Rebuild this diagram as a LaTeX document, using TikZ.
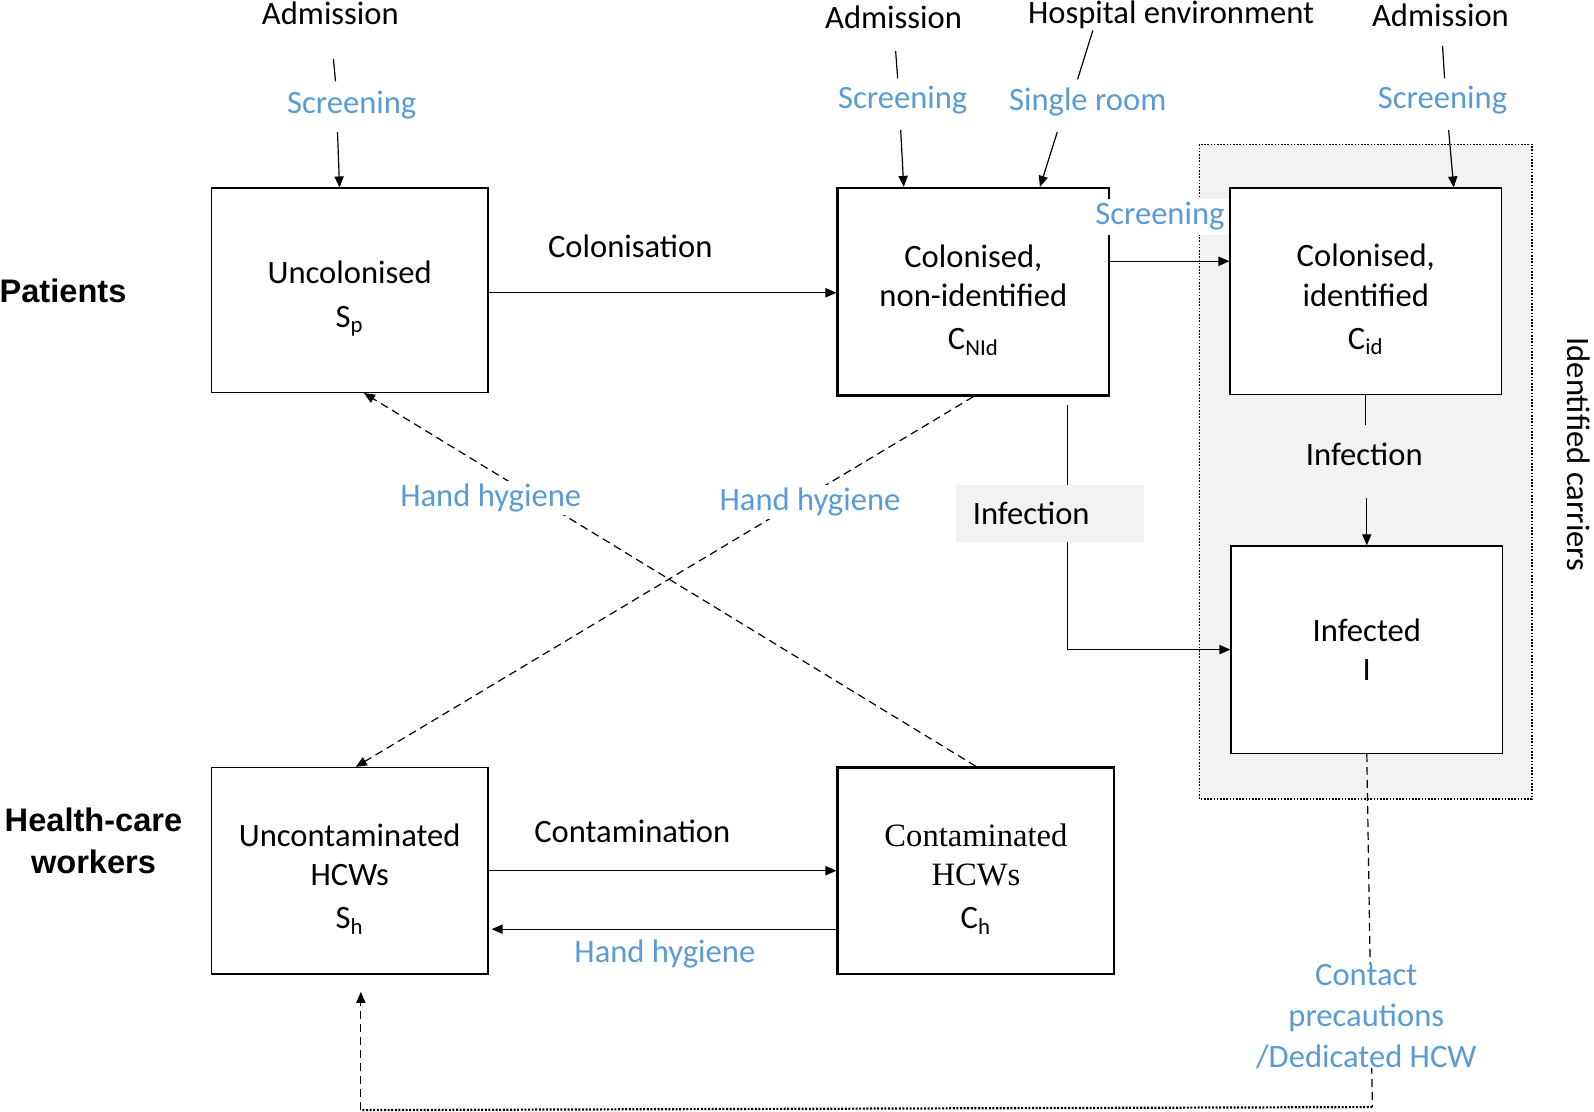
\documentclass[tikz,border=0pt]{standalone}
\usepackage{fontspec}
\setmainfont{Carlito}
\newfontfamily\timesf{Liberation Serif}
\newfontfamily\arialf{Liberation Sans}
\usetikzlibrary{arrows.meta,calc}
\definecolor{mblue}{HTML}{5B9BD5}
\definecolor{mgrey}{HTML}{F2F2F2}
\newcommand\tp{\rule{0pt}{19.6pt}}
\newcommand\pxu{0.5083pt}
\begin{document}
\begin{tikzpicture}[x=0.5083pt,y=-0.5083pt,
  every node/.style={font=\fontsize{16.3}{19.6}\selectfont, inner sep=0pt},
  box/.style n args={2}{draw, line width=0.65pt, align=center,
    minimum width={#1*\pxu}, minimum height={#2*\pxu}},
  thickbox/.style={line width=1.2pt},
  bl/.style={text=mblue},
  lbl/.style={fill=white, inner sep=1.5pt},
  arr/.style={-{Triangle[length=5.5pt,width=4.6pt]}, line width=0.6pt},
  ln/.style={line width=0.6pt},
  dsh/.style={dash pattern=on 4pt off 2.5pt, line width=0.6pt},
  dots/.style={dash pattern=on 1pt off 0.8pt, line width=1.1pt},
  hdr/.style={font=\arialf\bfseries\fontsize{16.3}{20.8}\selectfont, align=center}]
\useasboundingbox (0,0) rectangle (1568,1093);

% group of identified carriers
\draw[fill=mgrey, dash pattern=on 0.8pt off 0.8pt, line width=0.8pt] (1180,142) rectangle (1507,786);
\node[rotate=-90] (idc) at (1553,447) {Identified carriers};

% row labels
\node[hdr] (pat) at (62,286) {Patients};
\node[hdr] (hcw) at (92,827) {Health-care\\workers};

% boxes
\node[box={272}{201}, fill=white] (sp) at (344,285.5) {\tp Uncolonised\\[2pt]S\textsubscript{p}};
\node[box={267}{204}, thickbox, fill=white] (cnid) at (957.5,287) {\tp Colonised,\\non-identified\\[2pt]C\textsubscript{NId}};
\node[box={267}{203}, fill=white] (cid) at (1343.5,286.5) {\tp Colonised,\\identified\\[2pt]C\textsubscript{id}};
\node[box={267}{204}, fill=white] (inf) at (1344.5,639) {Infected\\I};
\node[box={272}{203}, fill=white] (sh) at (344,856.5) {\tp Uncontaminated\\HCWs\\[2pt]S\textsubscript{h}};
\node[box={272}{203}, thickbox, fill=white] (ch) at (960,856.5) {\tp{\timesf Contaminated}\\{\timesf HCWs}\\[2pt]C\textsubscript{h}};

% top labels
\node (adm1) at (325,13) {Admission};
\node[bl] (scr1) at (346,103) {Screening};
\node (adm2) at (879,17) {Admission};
\node[bl] (scr2) at (888,98) {Screening};
\node (hosp) at (1152,15) {Hospital environment};
\node[bl] (single) at (1070,100) {Single room};
\node (adm3) at (1417,15) {Admission};
\node[bl] (scr3) at (1419,98) {Screening};

\coordinate (a1a) at (328,58);  \coordinate (a1b) at (330,80);  \coordinate (s1a) at (332,130);
\coordinate (a2a) at (881,50);  \coordinate (a2b) at (883,77);  \coordinate (s2a) at (886,128);
\coordinate (h1a) at (1075,30); \coordinate (h1b) at (1060,78); \coordinate (r1a) at (1040,130);
\coordinate (a3a) at (1419,45); \coordinate (a3b) at (1421,77); \coordinate (s3a) at (1425,128);

\draw[ln] (a1a) -- (a1b);
\draw[arr] (s1a) -- ($(sp.north)+(-10,0)$);
\draw[ln] (a2a) -- (a2b);
\draw[arr] (s2a) -- ($(cnid.north)+(-68.5,0)$);
\draw[ln] (h1a) -- (h1b);
\draw[arr] (r1a) -- ($(cnid.north)+(65.5,0)$);
\draw[ln] (a3a) -- (a3b);
\draw[arr] (s3a) -- ($(cid.north)+(86.5,0)$);

% colonisation
\coordinate (y288) at (0,288);
\draw[arr] (sp.east |- y288) -- (cnid.west |- y288);
\node (col) at (620,242) {Colonisation};

% screening to identified
\coordinate (y257) at (0,257);
\draw[arr] (cnid.east |- y257) -- (cid.west |- y257);
\node[bl, fill=white, inner sep=2pt] (scr4) at (1141,213) {Screening};

% infection from identified
\node (inf2) at (1342,447) {Infection};
\draw[ln, shorten >=9pt] (cid.south) -- (cid.south |- inf2.north);
\draw[arr, shorten <=16pt] (inf.north |- inf2.south) -- (inf.north);

% infection from non-identified
\coordinate (ix) at (1050,0);
\draw[arr] ($(cnid.south -| ix)+(0,8)$) -- (ix |- inf.west) -- (inf.west);
\node[fill=mgrey, inner xsep=8.6pt, text width=76.8pt, align=left, minimum height=28.5pt] (inf1) at (1032.5,505) {Infection};

% hand hygiene crossings
\draw[dsh, arr] (cnid.south) -- ($(sh.north)+(6,0)$)
  node[pos=0.284, xshift=6pt, bl, lbl] (hh1) {Hand hygiene};
\draw[dsh, arr] (ch.north) -- ($(sp.south)+(14,0)$)
  node[pos=0.718, xshift=-22.9pt, bl, lbl] (hh2) {Hand hygiene};

% HCW transitions
\draw[arr] (sh.east) -- (sh.east -| ch.west);
\node (cont) at (622,818) {Contamination};
\coordinate (y914) at (0,914);
\draw[arr] (ch.west |- y914) -- ($(sh.east |- y914)+(3,0)$);
\node[bl] (hh3) at (654,938) {Hand hygiene};

% contact precautions loop
\coordinate (c1) at (1350,1089);
\coordinate (c2) at (355,1092);
\draw[dsh] (inf.south) -- (c1);
\draw[dots] (c1) -- (c2);
\draw[dsh, arr] (c2) -- ($(sh.south)+(11,17)$);
\node[bl, fill=white, align=center, font=\fontsize{16.3}{20.3}\selectfont] (cp) at (1344,1000) {Contact\\precautions\\/Dedicated HCW};

\end{tikzpicture}
\end{document}
